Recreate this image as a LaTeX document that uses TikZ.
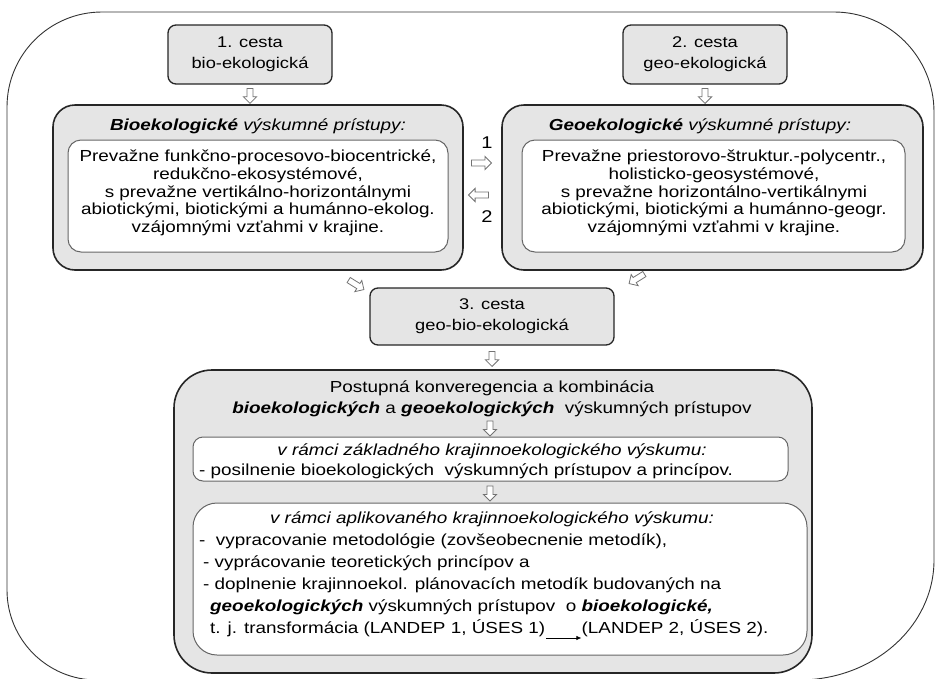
\documentclass[tikz,border=0pt]{standalone}
\usepackage{fontspec}
\setmainfont{Liberation Sans}[FakeStretch=1.18]
\usetikzlibrary{shapes.arrows,arrows.meta,calc}
\begin{document}
\begin{tikzpicture}[x=1pt,y=-1pt,
  outerline/.style={draw=black!80, line width=0.9pt},
  bigbox/.style={draw=black!85, fill=black!10, line width=1.6pt, rounded corners=22pt, inner sep=0pt},
  inbox/.style={draw=black!60, fill=white, line width=1pt, rounded corners=13pt, inner sep=0pt},
  cestabox/.style={draw=black!85, fill=black!10, line width=1.3pt, rounded corners=8pt, align=center, inner sep=0pt, font=\fontsize{15.5}{21}\selectfont},
  barrow/.style={single arrow, draw=black!55, fill=white, line width=0.8pt, inner sep=2.6pt, minimum height=15pt, single arrow head extend=3.6pt, single arrow head indent=0pt},
  body/.style={align=center, inner sep=0pt, font=\fontsize{16}{17.7}\selectfont},
  head/.style={inner sep=0pt, font=\fontsize{16}{20}\selectfont},
  line/.style={inner sep=0pt, anchor=base west, font=\fontsize{16}{20}\selectfont},
  cline/.style={inner sep=0pt, anchor=base, font=\fontsize{16}{20}\selectfont},
  numlab/.style={inner sep=0pt, font=\fontsize{17}{20}\selectfont}
]
\useasboundingbox (0,0) rectangle (935,678);
\clip (0,0) rectangle (935,678);
% outer frame
\draw[outerline] (7,107) .. controls (7,54.5) and (49.5,12) .. (102,12)
  -- (834,12) .. controls (889.2,12) and (934,56.8) .. (934,112)
  -- (934,560) .. controls (934,626.3) and (873.6,680) .. (799,680)
  -- (97,680) .. controls (47.3,680) and (7,639.7) .. (7,590) -- cycle;

% cesta boxes
\node[cestabox, minimum width=164pt, minimum height=59pt] (c1) at (250,54.5) {1. cesta\\bio-ekologická};
\node[cestabox, minimum width=164pt, minimum height=59pt] (c2) at (705,54.5) {2. cesta\\geo-ekologická};

% big boxes
\node[bigbox, minimum width=410pt, minimum height=165pt] (bio) at (258,187.5) {};
\node[inbox, minimum width=380pt, minimum height=112pt] (bioin) at (258,196) {};
\node[bigbox, minimum width=421pt, minimum height=165pt] (geo) at (712.5,187.5) {};
\node[inbox, minimum width=383pt, minimum height=112pt] (geoin) at (713.5,196) {};

\node[head] (biot) at (258,126) {\textbf{\textit{Bioekologické}} \textit{výskumné prístupy:}};
\node[body] (biotx) at (258,193) {Prevažne funkčno-procesovo-biocentrické,\\redukčno-ekosystémové,\\s prevažne vertikálno-horizontálnymi\\abiotickými, biotickými a humánno-ekolog.\\vzájomnými vzťahmi v krajine.};
\node[head] (geot) at (700,126) {\textbf{\textit{Geoekologické}} \textit{výskumné prístupy:}};
\node[body] (geotx) at (714,193) {Prevažne priestorovo-štruktur.-polycentr.,\\holisticko-geosystémové,\\s prevažne horizontálno-vertikálnymi\\abiotickými, biotickými a humánno-geogr.\\vzájomnými vzťahmi v krajine.};

% third path
\node[cestabox, minimum width=244pt, minimum height=57pt] (c3) at (492,316.5) {3. cesta\\geo-bio-ekologická};

% bottom box
\node[bigbox, rounded corners=38pt, minimum width=638pt, minimum height=303pt] (conv) at (493,521.5) {};
\node[cline] (convt1) at (492,392) {Postupná konveregencia a kombinácia};
\node[cline] (convt2) at (492,413) {\textbf{\textit{bioekologických}} a \textbf{\textit{geoekologických}}\ \ výskumných prístupov};

\node[inbox, rounded corners=10pt, minimum width=595pt, minimum height=44pt] (za) at (490.5,459) {};
\node[cline] (zah) at (492,455) {\textit{v rámci základného krajinnoekologického výskumu:}};
\node[line] (zal) at (199,475) {- posilnenie bioekologických\ \ výskumných prístupov a princípov.};

\node[inbox, rounded corners=24pt, minimum width=614pt, minimum height=152pt] (ap) at (500,579) {};
\node[cline] (aph) at (492,523) {\textit{v rámci aplikovaného krajinnoekologického výskumu:}};
\node[line] (l1) at (199,545) {-\ \ vypracovanie metodológie (zovšeobecnenie metodík),};
\node[line] (l2) at (203,567) {- vyprácovanie teoretických princípov a};
\node[line] (l3) at (203,589) {- doplnenie krajinnoekol. plánovacích metodík budovaných na};
\node[line] (l4) at (210,611) {\textbf{\textit{geoekologických}} výskumných prístupov\ \ o \textbf{\textit{bioekologické,}}};
\node[line] (t1) at (210,633) {t. j. transformácia (LANDEP 1, ÚSES 1)};
\node[line] (t2) at ($(t1.base east)+(36,0)$) {(LANDEP 2, ÚSES 2).};
\draw[line width=0.8pt, -{Latex[length=5pt,width=4.5pt]}] ([xshift=1pt,yshift=-5pt]t1.base east) -- ([yshift=-5pt]t2.base west);

% block arrows
\node[barrow, shape border rotate=270] (a1) at ($(c1.south)!0.5!(c1.south |- bio.north)$) {};
\node[barrow, shape border rotate=270] (a2) at ($(c2.south)!0.5!(c2.south |- geo.north)$) {};
\node[barrow, minimum height=20pt] (a12) at (480,163) {};
\node[barrow, minimum height=20pt, shape border rotate=180] (a21) at (480,195) {};
\node[numlab] (n1) at (487,143) {1};
\node[numlab] (n2) at (487,217) {2};
\node[barrow, minimum height=18pt, rotate=-32] (a13) at (355,284) {};
\node[barrow, minimum height=18pt, rotate=212] (a23) at (638,278) {};
\node[barrow, shape border rotate=270] (a3) at ($(c3.south)!0.5!(c3.south |- conv.north)$) {};
\node[barrow, shape border rotate=270] (a4) at (490,427) {};
\node[barrow, shape border rotate=270] (a5) at (490,492) {};
\end{tikzpicture}
\end{document}
